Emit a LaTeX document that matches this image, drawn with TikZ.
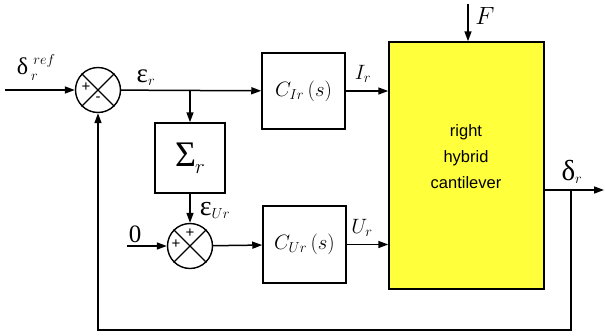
\documentclass[tikz,border=0pt]{standalone}
\usepackage{fontspec}
\setmainfont{Liberation Serif}
\newfontfamily\sansf{Liberation Sans}
\usetikzlibrary{arrows.meta}
\definecolor{plantc}{RGB}{255,255,60}
\newcommand\gkf[2]{{\fontsize{#1}{#1}\selectfont #2}}
\begin{document}
\begin{tikzpicture}[x=1pt,y=-1pt,
  >={Triangle[length=10pt,width=7pt]},
  line width=1.5pt,
  blk/.style={draw, line width=1.5pt, minimum width=83pt, minimum height=76pt, inner sep=0pt},
  sumj/.style={draw, circle, line width=1.4pt, minimum size=45pt, inner sep=0pt},
  lbl/.style={font=\fontsize{21}{24}\selectfont, inner sep=0pt},
  sgn/.style={font=\sansf\fontsize{15}{15}\selectfont, inner sep=0pt}]
\useasboundingbox (0,0) rectangle (605,335);

% blocks
\node[sumj] (s1) at (98,90) {};
\draw[line width=1.2pt] (s1.north west) -- (s1.south east) (s1.south west) -- (s1.north east);
\node[sgn] (p1) at (86,87) {+};
\node[sgn] (m1) at (98,99) {-};

\node[sumj] (s2) at (190,246) {};
\draw[line width=1.2pt] (s2.north west) -- (s2.south east) (s2.south west) -- (s2.north east);
\node[sgn] (p2) at (190,233) {+};
\node[sgn] (p3) at (176,244) {+};

\node[blk, minimum width=70pt, minimum height=70pt] (sig) at (190,158) {\gkf{36}{Σ}\kern-1pt\raisebox{-7pt}{\fontsize{21}{24}\selectfont$r$}};
\node[blk] (cir) at (303.5,91) {\fontsize{22}{24}\selectfont $C_{Ir}\,(s)$};
\node[blk, minimum height=77pt] (cur) at (304.5,244.5) {\fontsize{22}{24}\selectfont $C_{Ur}\,(s)$};
\node[draw, line width=1.5pt, fill=plantc, minimum width=155pt, minimum height=247pt, inner sep=0pt] (plant) at (466.5,165.5) {};
\node[align=center, font=\sansf\fontsize{16.5}{26}\selectfont] (ptext) at (466,157) {right\\hybrid\\cantilever};

% coordinates
\coordinate (in) at (5,90);
\coordinate (b1) at (190,90);
\coordinate (zero) at (127,246);
\coordinate (ftop) at (468,4);
\coordinate (out) at (604,190);
\coordinate (b2) at (571,190);
\coordinate (fb) at (571,330);

% connectors
\draw[->] (in) -- (s1);
\draw[->] (s1) -- (cir);
\draw[->] (b1) -- (sig);
\draw[->] (cir.east) -- (cir.east -| plant.west);
\draw[->] (sig) -- (s2);
\draw[->] (zero) -- (s2);
\draw[->] (s2) -- (cur);
\draw[->] (cur.east) -- (cur.east -| plant.west);
\draw[->] (ftop) -- (ftop |- plant.north);
\draw[->] (plant.east |- out) -- (out);
\draw[->] (b2) -- (fb) -| (s1.south);

% labels
\node[lbl] (lref) at (36,67) {\gkf{24}{δ}\kern3pt\rlap{\raisebox{-6pt}{\fontsize{15}{15}\selectfont$r$}}\raisebox{10pt}{\fontsize{15}{15}\selectfont$\,ref$}};
\node[lbl] (leps) at (146,78) {\gkf{27}{ε}$_r$};
\node[lbl] (lir) at (363,74) {$I_r$};
\node[lbl] (leur) at (215,210) {\gkf{28}{ε}$_{Ur}$};
\node[lbl] (lur) at (362,228) {$U_r$};
\node[lbl, font=\fontsize{27}{28}\selectfont] (lf) at (485,16) {$F$};
\node[lbl] (ld) at (572,172) {\gkf{29}{δ}$_r$};
\node[lbl, font=\fontsize{25}{26}\selectfont] (l0) at (135,234) {0};
\end{tikzpicture}
\end{document}
